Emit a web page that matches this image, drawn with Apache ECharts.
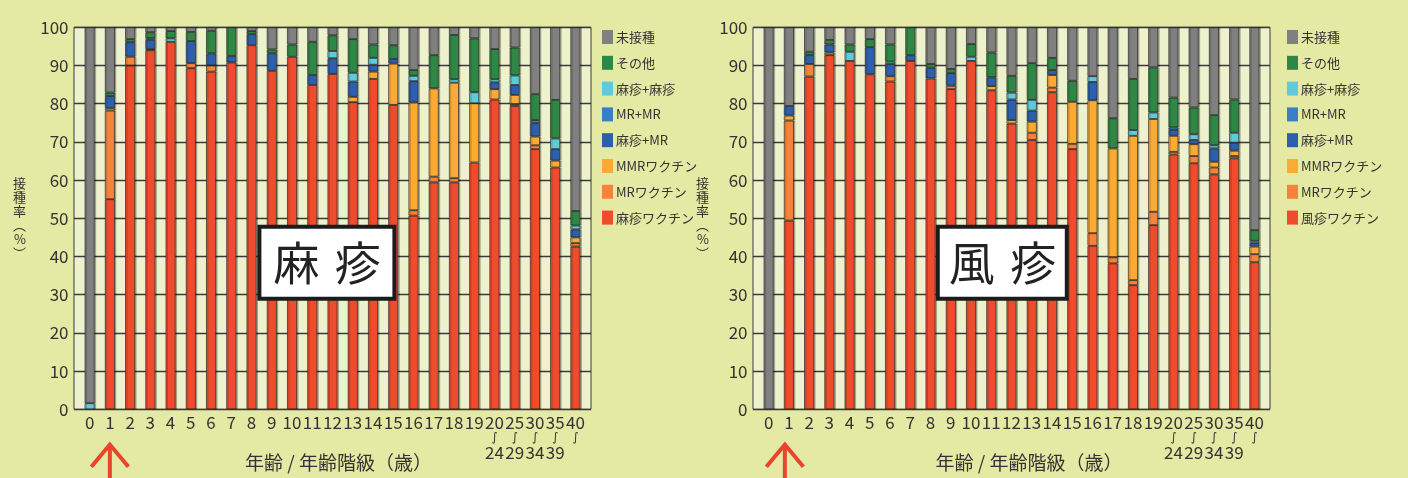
<!DOCTYPE html>
<html>
<head>
<meta charset="utf-8">
<script src="https://cdn.jsdelivr.net/npm/echarts@6/dist/echarts.min.js"></script>
<style>
html,body{margin:0;padding:0;background:#e4e9a3;}
#c{width:1408px;height:478px;}
</style>
</head>
<body>
<div id="c"></div>
<script>
// ---- categories (age / age band) ----
const categories = ['0','1','2','3','4','5','6','7','8','9','10','11','12','13','14','15','16','17','18','19','20','25','30','35','40'];
const rangeEnds  = ['','','','','','','','','','','','','','','','','','','','','24','29','34','39',''];

// ---- legend labels (top to bottom) ----
const namesCommon = ['未接種','その他','麻疹+麻疹','MR+MR','麻疹+MR','MMRワクチン','MRワクチン'];
const measlesVaccineName = '麻疹ワクチン';
const rubellaVaccineName = '風疹ワクチン';

// ---- 麻疹 (measles) chart values, % ----
const measles_single   = [0,55.0,90.0,94.0,96.2,89.3,88.4,90.8,95.3,88.6,92.3,84.9,87.8,80.4,86.5,79.7,50.7,59.4,59.4,64.6,81.1,79.4,68.1,63.3,42.6];
const measles_MR       = [0,23.2,2.3,0.3,0,1.3,1.6,0,0,0,0,0,0,0,0,0,1.4,1.5,1.1,0,0,0.5,1.0,0,0.9];
const measles_MMR      = [0,0.6,0,0,0,0,0,0,0,0,0,0,0,1.4,1.9,10.8,28.2,23.1,25.0,15.5,2.7,2.4,2.3,1.8,1.5];
const measles_mPlusMR  = [0,3.2,3.8,2.4,0,5.8,3.2,1.7,2.9,4.6,0,2.6,4.1,4.0,1.8,1.2,5.6,0,0,0,1.8,2.6,3.5,3.0,2.1];
const measles_MRplusMR = [0,0,0,0,0,0,0,0,0,0,0,0,0,0,0,0,0,0,0,0,0,0,0.8,0,0];
const measles_mPlusM   = [1.6,0,0,0.5,0.9,0,0,0,0,0,0,0,1.9,2.3,1.8,0,1.4,0,0.9,2.9,0.8,2.5,0,2.8,1.0];
const measles_other    = [0,0.9,0.8,1.5,1.9,2.4,5.9,7.5,0.8,1.0,3.2,8.7,4.1,8.8,3.5,3.6,1.5,8.7,11.6,14.1,7.9,7.3,6.8,10.1,3.8];
const measles_none     = [98.4,17.1,3.1,1.3,1.0,1.2,0.9,0,1.0,5.8,4.5,3.8,2.1,3.1,4.5,4.7,11.2,7.3,2.0,2.9,5.7,5.3,17.5,19.0,48.1];

// ---- 風疹 (rubella) chart values, % ----
const rubella_single   = [0,49.4,87.1,92.7,91.2,87.7,85.8,91.2,86.6,83.8,91.2,83.5,74.8,70.5,83.0,68.1,42.8,38.2,32.5,48.2,66.7,64.4,61.5,65.7,38.5];
const rubella_MR       = [0,26.2,3.3,0.7,0,0,1.4,0,0,0.9,0,0,0,1.9,1.2,1.4,3.3,1.6,1.3,3.5,0.7,1.9,1.8,0.6,2.1];
const rubella_MMR      = [0,1.3,0,0,0,0,0,0,0,0,0,1.1,0.9,2.9,3.3,11.0,34.8,28.5,37.8,24.3,4.2,3.1,1.5,1.4,2.0];
const rubella_mPlusMR  = [0,2.5,2.3,2.1,0,7.1,3.2,1.5,2.8,3.3,0,2.3,5.4,2.9,1.3,0,4.8,0,0,0,1.5,1.1,3.5,2.1,0.9];
const rubella_MRplusMR = [0,0,0,0,0,0,0,0,0,0,0,0,0,0,0,0,0,0,0,0,0.7,0,0,0,0];
const rubella_mPlusM   = [0,0,0,0,2.4,0,0.6,0,0,0,1.1,0,1.8,2.8,0,0,1.5,0,1.5,1.7,0,1.5,0.8,2.6,0.6];
const rubella_other    = [0,0,0.9,1.2,1.9,2.1,4.5,7.3,1.0,1.1,3.3,6.5,4.4,9.6,3.2,5.5,0,7.9,13.4,11.8,7.8,7.0,7.9,8.7,2.8];
const rubella_none     = [100,20.6,6.4,3.3,4.5,3.1,4.5,0,9.6,10.9,4.4,6.6,12.7,9.4,8.0,14.0,12.8,23.8,13.5,10.5,18.4,21.0,23.0,18.9,53.1];

const colorByName = {
  '未接種':'#808081', 'その他':'#2f8746', '麻疹+麻疹':'#60c9da', 'MR+MR':'#3a7fc6',
  '麻疹+MR':'#2e5fad', 'MMRワクチン':'#fbaa34', 'MRワクチン':'#f5843a',
  '麻疹ワクチン':'#ef4b2d', '風疹ワクチン':'#ef4b2d'
};

const FONT = "'Noto Sans CJK JP','Noto Sans',sans-serif";

function stackSeries(layers, xIdx, yIdx, stackId) {
  return layers.map(([name, vals]) => ({
    type: 'bar', name: name, stack: stackId,
    xAxisIndex: xIdx, yAxisIndex: yIdx,
    barWidth: 10,
    data: vals.map(v => v === 0 ? '-' : v),
    itemStyle: {
      color: colorByName[name], borderColor: 'rgba(35,35,35,0.85)', borderWidth: 0.8,
      shadowColor: 'rgba(0,0,0,0.28)', shadowOffsetX: 1.5, shadowBlur: 0
    },
    emphasis: { disabled: true }
  }));
}

const leftLayers = [
  [measlesVaccineName, measles_single], ['MRワクチン', measles_MR], ['MMRワクチン', measles_MMR],
  ['麻疹+MR', measles_mPlusMR], ['MR+MR', measles_MRplusMR], ['麻疹+麻疹', measles_mPlusM],
  ['その他', measles_other], ['未接種', measles_none]
];
const rightLayers = [
  [rubellaVaccineName, rubella_single], ['MRワクチン', rubella_MR], ['MMRワクチン', rubella_MMR],
  ['麻疹+MR', rubella_mPlusMR], ['MR+MR', rubella_MRplusMR], ['麻疹+麻疹', rubella_mPlusM],
  ['その他', rubella_other], ['未接種', rubella_none]
];

function bgGrid(left) {
  return { left: left, top: 27.3, width: 517, height: 382, show: true, outerBoundsMode: 'none', containLabel: false,
           backgroundColor: '#eef2cc', borderColor: '#3a3a3a', borderWidth: 1 };
}
function dataGrid(left) {
  return { left: left, top: 27.3, width: 506, height: 382, outerBoundsMode: 'none', containLabel: false };
}
function bgX(g) { return { gridIndex: g, type: 'value', show: false, min: 0, max: 1 }; }
function bgY(g) {
  return { gridIndex: g, type: 'value', min: 0, max: 100, interval: 10,
    axisLabel: { show: false }, axisLine: { show: false }, axisTick: { show: false },
    splitLine: { show: true, lineStyle: { color: '#3a3a3a', width: 1.3 } } };
}
function dataX(g, padLeft) {
  return { gridIndex: g, type: 'category', data: categories,
    axisLine: { show: false }, axisTick: { show: false },
    axisLabel: {
      interval: 0, margin: 5, color: '#333',
      formatter: (v, i) => i >= 20
        ? ('{n|' + v + '}\n{s|∫}' + (rangeEnds[i] ? '\n{n|' + rangeEnds[i] + '}' : ''))
        : '{n|' + v + '}',
      rich: {
        n: { fontSize: 17, lineHeight: 17, color: '#333', fontFamily: FONT },
        s: { fontSize: 12, lineHeight: 13, color: '#333', fontFamily: 'DejaVu Sans' }
      }
    },
    name: '年齢 / 年齢階級（歳）', nameLocation: 'middle', nameGap: 44, nameMoveOverlap: false,
    nameTextStyle: { fontSize: 19, color: '#333', fontFamily: FONT, padding: [0, 0, 0, padLeft] }
  };
}
function dataY(g, gap) {
  return { gridIndex: g, type: 'value', min: 0, max: 100, interval: 10,
    splitLine: { show: false }, axisLine: { show: false }, axisTick: { show: false },
    axisLabel: { fontSize: 17, color: '#333', margin: 11, fontFamily: FONT },
    name: '接\n種\n率\n︵\n%\n︶', nameLocation: 'middle', nameRotate: 0, nameGap: gap, nameMoveOverlap: false,
    nameTextStyle: { fontSize: 13, lineHeight: 14, color: '#333', fontFamily: FONT }
  };
}
function legendAt(left, lastName) {
  return { orient: 'vertical', left: left, top: 25, itemWidth: 11, itemHeight: 14, itemGap: 11.8,
    icon: 'rect', selectedMode: false,
    data: namesCommon.concat([lastName]),
    itemStyle: { borderWidth: 0, shadowOffsetX: 0, shadowColor: 'transparent' },
    textStyle: { fontSize: 13, color: '#333', fontFamily: FONT, padding: [0, 0, 0, -2] } };
}
function titleBox(text, left, padH) {
  return { text: text, left: left, top: 227, padding: [10.8, padH],
    backgroundColor: '#ffffff', borderColor: '#1c1c1c', borderWidth: 4,
    textStyle: { fontSize: 46, lineHeight: 50, fontWeight: 'normal', color: '#222', fontFamily: FONT } };
}

const chart = echarts.init(document.getElementById('c'), null, { renderer: 'canvas' });
chart.setOption({
  backgroundColor: '#e4e9a3',
  animation: false,
  textStyle: { fontFamily: FONT },
  title: [ titleBox('麻\u2004疹', 259.6, 13.8), titleBox('風\u2004疹', 938, 10.8) ],
  legend: [ legendAt(597, measlesVaccineName), legendAt(1282, rubellaVaccineName) ],
  grid: [ bgGrid(74), dataGrid(79.5), bgGrid(753), dataGrid(758.5) ],
  xAxis: [ bgX(0), dataX(1, 12), bgX(2), dataX(3, 35) ],
  yAxis: [ bgY(0), dataY(1, 53.5), bgY(2), dataY(3, 49.5) ],
  series: stackSeries(leftLayers, 1, 1, 'measles').concat(stackSeries(rightLayers, 3, 3, 'rubella'))
});

// red arrows under age "1"
const arrowColor = '#e8452c';
function arrowAt(x) {
  return [
    { type: 'polyline', shape: { points: [[x - 18.5, 466.7], [x, 444.5], [x + 18.5, 466.7]] },
      style: { stroke: arrowColor, lineWidth: 4, fill: null }, z: 10 },
    { type: 'line', shape: { x1: x, y1: 446, x2: x, y2: 482 },
      style: { stroke: arrowColor, lineWidth: 4 }, z: 10 }
  ];
}
const xl = chart.convertToPixel({ xAxisIndex: 1 }, '1');
const xr = chart.convertToPixel({ xAxisIndex: 3 }, '1');
chart.setOption({ graphic: arrowAt(xl).concat(arrowAt(xr - 4)) });
</script>
</body>
</html>
